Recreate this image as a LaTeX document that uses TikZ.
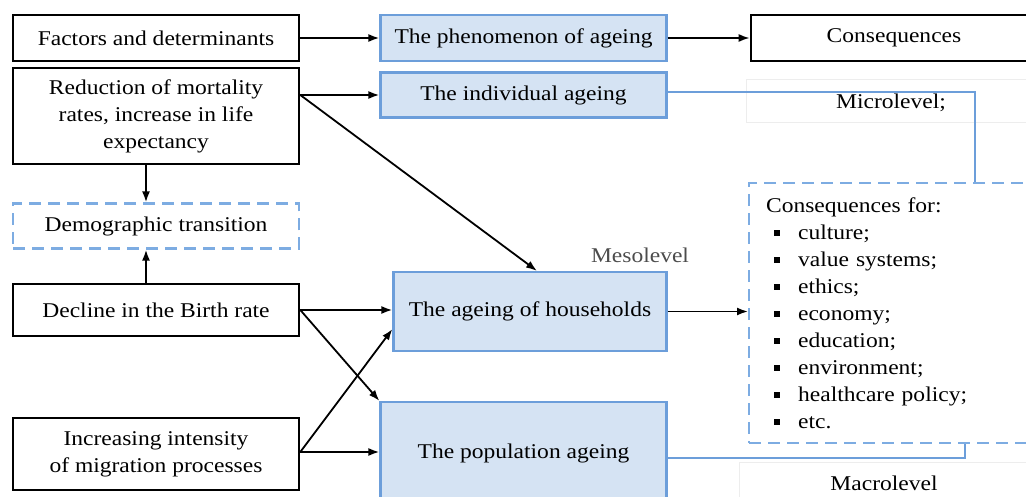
\documentclass[tikz,border=0pt]{standalone}
\usepackage{fontspec}
\setmainfont{Liberation Serif}[FakeStretch=1.12]
\usetikzlibrary{arrows.meta}

\definecolor{boxfill}{RGB}{213,227,243}
\definecolor{boxline}{RGB}{108,158,218}
\definecolor{dashline}{RGB}{125,172,226}
\newcommand\bitem[1]{\hspace*{8pt}\rule[3pt]{6pt}{6pt}\hspace{18pt}#1}

\tikzset{
    black node/.style={draw, line width=2.6pt, align=center, minimum width=286pt, inner sep=0pt},
    blue node/.style={draw=boxline, fill=boxfill, line width=2.2pt, align=center, minimum width=286pt, inner sep=0pt},
    dash node/.style={draw=dashline, line width=2.2pt, dash pattern=on 12pt off 7pt},
    arr/.style={line width=1.8pt, -{Latex[length=11pt,width=8pt]}},
    link/.style={draw=boxline, line width=2pt},
    faint/.style={draw=black!7, line width=1pt}
    }

\begin{document}
\begin{tikzpicture}[x=1pt, y=-1pt, font=\fontsize{21}{27}\selectfont]
                \clip (0,0) rectangle (1026,497);
                \draw[faint] (746,123) rectangle (1040,80);
                \draw[faint] (739,510) rectangle (1040,462);
                \node(factors)[black node, minimum height=46pt] at (156,38) {Factors and determinants};
                \node(phenom)[blue node, minimum height=46pt] at (523.5,38) {The phenomenon of ageing};
                \node(conseq)[black node, minimum height=46pt, text depth=5pt] at (894,38) {Consequences};
                \node(reduct)[black node, minimum height=96pt] at (156,116) {Reduction of mortality\\rates, increase in life\\expectancy};
                \node(indiv)[blue node, minimum height=45pt] at (523.5,95) {The individual ageing};
                \node(demo)[dash node, minimum width=286pt, minimum height=45pt] at (156,226) {Demographic transition};
                \node(birth)[black node, minimum height=52pt] at (156,310) {Decline in the Birth rate};
                \node(house)[blue node, minimum width=273pt, minimum height=79pt] at (530,311.5) {The ageing of households};
                \node(migr)[black node, minimum height=72pt] at (156,454) {Increasing intensity\\of migration processes};
                \node(popul)[blue node, minimum height=102pt] at (523.5,453) {The population ageing};
                \node(consfor)[dash node, anchor=north west, text width=258pt, inner xsep=17pt, inner ysep=0pt,
                    minimum height=260pt, align=left] at (748,182)
                    {Consequences for:\\
                     \bitem{culture;}\\
                     \bitem{value systems;}\\
                     \bitem{ethics;}\\
                     \bitem{economy;}\\
                     \bitem{education;}\\
                     \bitem{environment;}\\
                     \bitem{healthcare policy;}\\
                     \bitem{etc.}};
                \node(micro) at (891,103) {Microlevel;};
                \node(meso)[text=black!70] at (640,255) {Mesolevel};
                \node(macro) at (884,483) {Macrolevel};
                % arrows
                \draw[arr] (factors) -- (phenom);
                \draw[arr] (phenom) -- (conseq);
                \draw[arr] (reduct.east |- indiv.west) -- (indiv.west);
                \draw[arr] (reduct.east |- indiv.west) -- ([xshift=7pt]house.north);
                \draw[arr] ([xshift=-10pt]reduct.south) -- ([xshift=-10pt]demo.north);
                \draw[arr] ([xshift=-10pt]birth.north) -- ([xshift=-10pt]demo.south);
                \draw[arr] (birth.east) -- (birth.east -| house.west);
                \draw[arr] (birth.east) -- (popul.north west);
                \draw[arr] ([yshift=2pt]migr.east) -- ([yshift=23pt]house.south west);
                \draw[arr] ([yshift=2pt]migr.east) -- ([yshift=2pt]migr.east -| popul.west);
                \draw[arr] (house.east) -- (house.east -| consfor.west);
                % level links
                \draw[link] ([yshift=3pt]indiv.east) -| ([xshift=227pt]consfor.north west);
                \draw[link] ([yshift=-5pt]popul.east) -| ([xshift=217pt]consfor.south west);
            \end{tikzpicture}
\end{document}
